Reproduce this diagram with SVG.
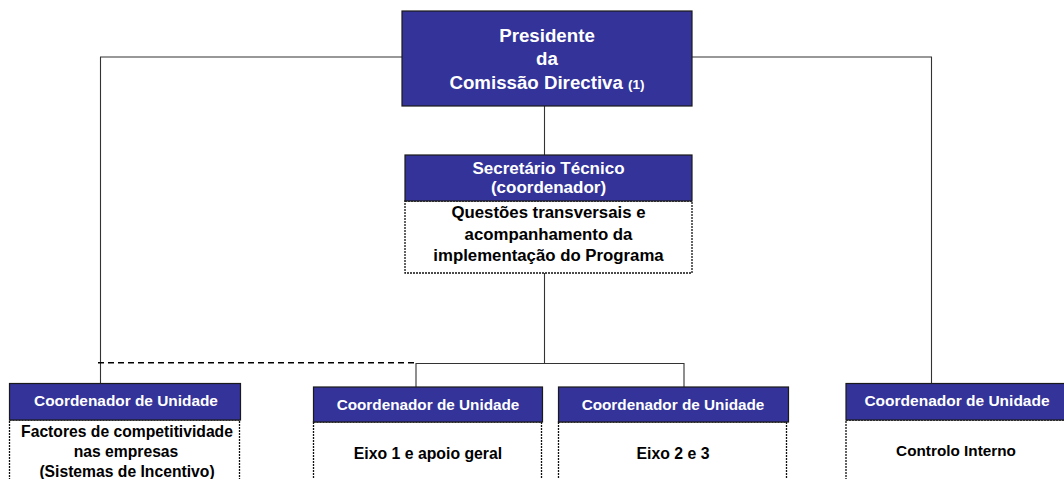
<svg xmlns="http://www.w3.org/2000/svg" width="1064" height="479" viewBox="0 0 1064 479">
<style>
.hdr{fill:#333399;stroke:#1a1a1a;stroke-width:1.2}
.dot{fill:#fff;stroke:#111;stroke-width:1.3;stroke-dasharray:2 1}
.w{font-family:"Liberation Sans",Arial,sans-serif;font-weight:bold;fill:#fff;text-anchor:middle}
.b{font-family:"Liberation Sans",Arial,sans-serif;font-weight:bold;fill:#000;text-anchor:middle}
.ln{fill:none;stroke:#333;stroke-width:1.1}
.dash{fill:none;stroke:#000;stroke-width:1.6;stroke-dasharray:6 4}
</style>
<rect width="1064" height="479" fill="#fff"/>
<g id="connectors">
<polyline class="ln" points="402,57 100.5,57 100.5,383"/>
<polyline class="ln" points="692,57 931.5,57 931.5,383"/>
<line class="ln" x1="544.5" y1="106" x2="544.5" y2="155"/>
<line class="ln" x1="544.5" y1="273" x2="544.5" y2="364"/>
<polyline class="ln" points="416,387 416,363.5 684,363.5 684,387"/>
<line class="dash" x1="98" y1="362.8" x2="416" y2="362.8"/>
</g>
<g id="presidente">
<rect class="hdr" x="402" y="11" width="290" height="95"/>
<text class="w" x="547" y="41.5" font-size="18.7">Presidente</text>
<text class="w" x="547" y="64.5" font-size="18.7">da</text>
<text class="w" x="547" y="88.5" font-size="18.7">Comissão Directiva <tspan font-size="13.5">(1)</tspan></text>
</g>
<g id="secretario">
<rect class="dot" x="405" y="201" width="287" height="72"/>
<rect class="hdr" x="405" y="155" width="287" height="46"/>
<text class="w" x="548.5" y="173.5" font-size="17">Secretário Técnico</text>
<text class="w" x="548.5" y="193" font-size="17">(coordenador)</text>
<text class="b" x="548.5" y="217.5" font-size="16.8">Questões transversais e</text>
<text class="b" x="548.5" y="240" font-size="16.8">acompanhamento da</text>
<text class="b" x="548.5" y="261" font-size="16.8">implementação do Programa</text>
</g>
<g id="unidade1">
<rect class="dot" x="9.5" y="420" width="230" height="70"/>
<rect class="hdr" x="9.5" y="383.5" width="231" height="36.5"/>
<text class="w" x="126" y="406" font-size="15.4">Coordenador de Unidade</text>
<text class="b" x="127" y="436.5" font-size="15.7">Factores de competitividade</text>
<text class="b" x="126" y="456.5" font-size="15.7">nas empresas</text>
<text class="b" x="127" y="476.5" font-size="15.7">(Sistemas de Incentivo)</text>
</g>
<g id="unidade2">
<rect class="dot" x="313.5" y="422" width="228" height="70"/>
<rect class="hdr" x="313.5" y="387" width="229" height="35"/>
<text class="w" x="428" y="409.5" font-size="15.3">Coordenador de Unidade</text>
<text class="b" x="428" y="458.5" font-size="15.8">Eixo 1 e apoio geral</text>
</g>
<g id="unidade3">
<rect class="dot" x="558.5" y="422" width="228" height="70"/>
<rect class="hdr" x="558.5" y="387" width="230" height="35"/>
<text class="w" x="673" y="409.5" font-size="15.3">Coordenador de Unidade</text>
<text class="b" x="673" y="458.5" font-size="15.8">Eixo 2 e 3</text>
</g>
<g id="unidade4">
<rect class="dot" x="846" y="420" width="230" height="70"/>
<rect class="hdr" x="846" y="383.5" width="230" height="36.5"/>
<text class="w" x="957" y="406" font-size="15.5">Coordenador de Unidade</text>
<text class="b" x="956" y="456" font-size="15.3">Controlo Interno</text>
</g>
</svg>
